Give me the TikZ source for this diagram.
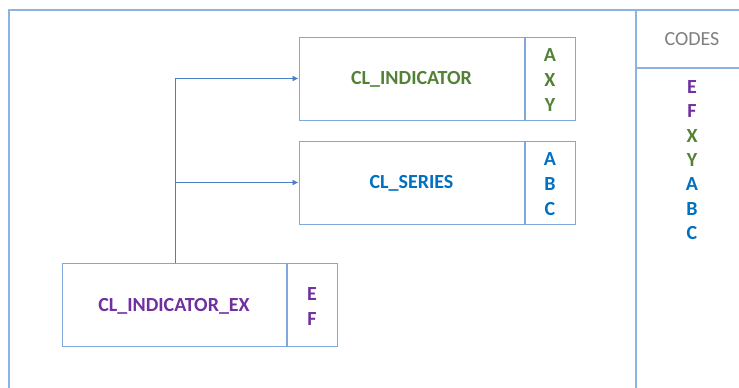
\documentclass[tikz,border=0pt]{standalone}
\usepackage{fontspec}
\setmainfont{Carlito}
\usetikzlibrary{arrows.meta}
\definecolor{frameblue}{HTML}{8DB3E2}
\definecolor{boxblue}{HTML}{7FA9DC}
\definecolor{arrowblue}{HTML}{4A7EC9}
\definecolor{cgreen}{HTML}{538135}
\definecolor{cblue}{HTML}{0070C0}
\definecolor{cpurple}{HTML}{7030A0}
\definecolor{cgray}{HTML}{7F7F7F}
\tikzset{
  boxmain/.style={draw=boxblue, line width=1pt, minimum height=83pt, inner sep=0pt, text height=12.9pt, text depth=0pt, font=\fontsize{20}{24}\selectfont\bfseries},
  boxcode/.style={draw=boxblue, line width=1pt, minimum width=50pt, minimum height=83pt, inner sep=0pt},
  codetxt/.style={font=\fontsize{20}{25}\selectfont\bfseries, align=center, inner sep=0pt},
  conn/.style={draw=arrowblue, line width=0.9pt, -{Latex[length=6pt,width=6pt]}},
}
\begin{document}
\begin{tikzpicture}[x=1pt,y=-1pt]
\useasboundingbox (0,0) rectangle (739,388);
% outer frame
\draw[frameblue, line width=1.2pt] (739,10) -- (9,10) -- (9,388);
\draw[frameblue, line width=1.2pt] (636,10) -- (636,388);
\draw[frameblue, line width=1.2pt] (636,68) -- (739,68);
\node[font=\fontsize{20}{24}\selectfont, text=cgray, text height=12.9pt, text depth=0pt, inner sep=0pt] (codes) at (692,39) {CODES};
\node[font=\fontsize{20}{24.4}\selectfont\bfseries, align=center, inner sep=0pt] (codelist) at (692,160) {\textcolor{cpurple}{E}\\\textcolor{cpurple}{F}\\\textcolor{cgreen}{X}\\\textcolor{cgreen}{Y}\\\textcolor{cblue}{A}\\\textcolor{cblue}{B}\\\textcolor{cblue}{C}};
% boxes
\node[boxmain, minimum width=225pt, text=cgreen] (ind) at (411.5,78.5) {CL\_INDICATOR};
\node[boxcode, anchor=west] (indc) at (ind.east) {};
\node[codetxt, text=cgreen, yshift=-2pt] (indt) at (indc) {A\\X\\Y};
\node[boxmain, minimum width=225pt, text=cblue] (ser) at (411.5,182.5) {CL\_SERIES};
\node[boxcode, anchor=west] (serc) at (ser.east) {};
\node[codetxt, text=cblue, yshift=-2pt] (sert) at (serc) {A\\B\\C};
\node[boxmain, minimum width=224pt, text=cpurple] (ex) at (174,305) {CL\_INDICATOR\_EX};
\node[boxcode, anchor=west] (exc) at (ex.east) {};
\node[codetxt, text=cpurple, yshift=-2pt] (ext) at (exc) {E\\F};
% connectors
\coordinate (j1) at (175,78.5);
\coordinate (j2) at (175,182.5);
\draw[conn] (ex.north -| j1) -- (j1) -- (ind.west);
\draw[conn] (j2) -- (ser.west);
\end{tikzpicture}
\end{document}
